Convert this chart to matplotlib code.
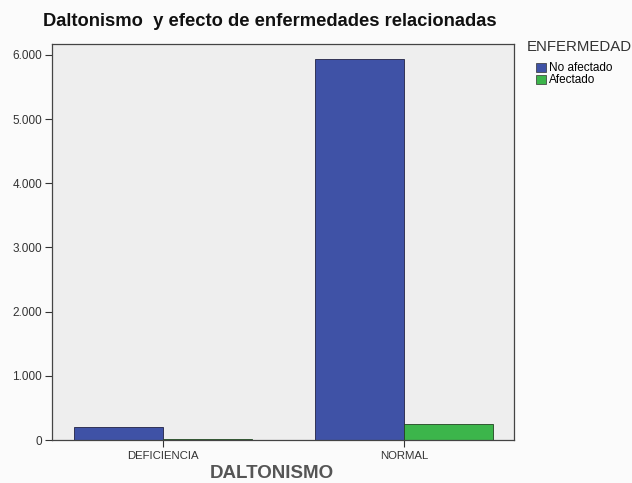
import matplotlib
matplotlib.use("Agg")
import matplotlib.pyplot as plt
from matplotlib.ticker import FuncFormatter
from matplotlib.patches import Patch
import numpy as np

plt.rcParams["font.family"] = ["Liberation Sans", "DejaVu Sans"]

categories = ["DEFICIENCIA", "NORMAL"]
no_afectado = [200, 5930]
afectado = [12, 245]
series_names = ["No afectado", "Afectado"]
colors = ["#3F52A6", "#3CB54B"]
yticks = [0, 1000, 2000, 3000, 4000, 5000, 6000]

fig = plt.figure(figsize=(6.32, 4.83), dpi=100)
fig.patch.set_facecolor("#FBFBFB")
ax = fig.add_axes([0.0823, 0.089, 0.731, 0.820])
ax.set_facecolor("#EEEEEE")

x = np.arange(len(categories))
w = 0.37
ax.bar(x - w / 2, no_afectado, w, color=colors[0], edgecolor="#222244", linewidth=0.6)
ax.bar(x + w / 2, afectado, w, color=colors[1], edgecolor="#224422", linewidth=0.6)

ax.set_xlim(-0.46, 1.456)
ax.set_ylim(0, 6170)
ax.set_xticks(x)
ax.set_xticklabels(categories, fontsize=8.2, color="#222222")
ax.set_yticks(yticks)
ax.yaxis.set_major_formatter(FuncFormatter(lambda v, p: f"{int(v):,}".replace(",", ".")))
ax.tick_params(axis="y", labelsize=8.5, length=5, width=0.8, colors="#333333", pad=2)
ax.tick_params(axis="x", length=5, width=0.8, colors="#333333", pad=3)
for s in ax.spines.values():
    s.set_color("#444444")
    s.set_linewidth(0.9)

fig.text(272 / 632, 1 - 474 / 483, "DALTONISMO", fontsize=13.5, fontweight="bold",
         color="#555555", ha="center", va="center")
fig.text(270 / 632, 1 - 22 / 483, "Daltonismo  y efecto de enfermedades relacionadas",
         fontsize=13.2, fontweight="bold", ha="center", va="center", color="#111111")
fig.text(527 / 632, 1 - 47 / 483, "ENFERMEDAD", fontsize=10.8, color="#333333",
         ha="left", va="center")

handles = [Patch(facecolor=c, edgecolor="#333333", linewidth=0.5) for c in colors]
leg = fig.legend(handles, series_names, loc="upper left", bbox_to_anchor=(535 / 632, 1 - 61 / 483),
                 frameon=False, fontsize=8.5,
                 handlelength=0.8, handleheight=0.8, handletextpad=0.25, labelspacing=0.0,
                 borderpad=0.1, borderaxespad=0)
fig.savefig("out.png", dpi=100, facecolor=fig.get_facecolor())
